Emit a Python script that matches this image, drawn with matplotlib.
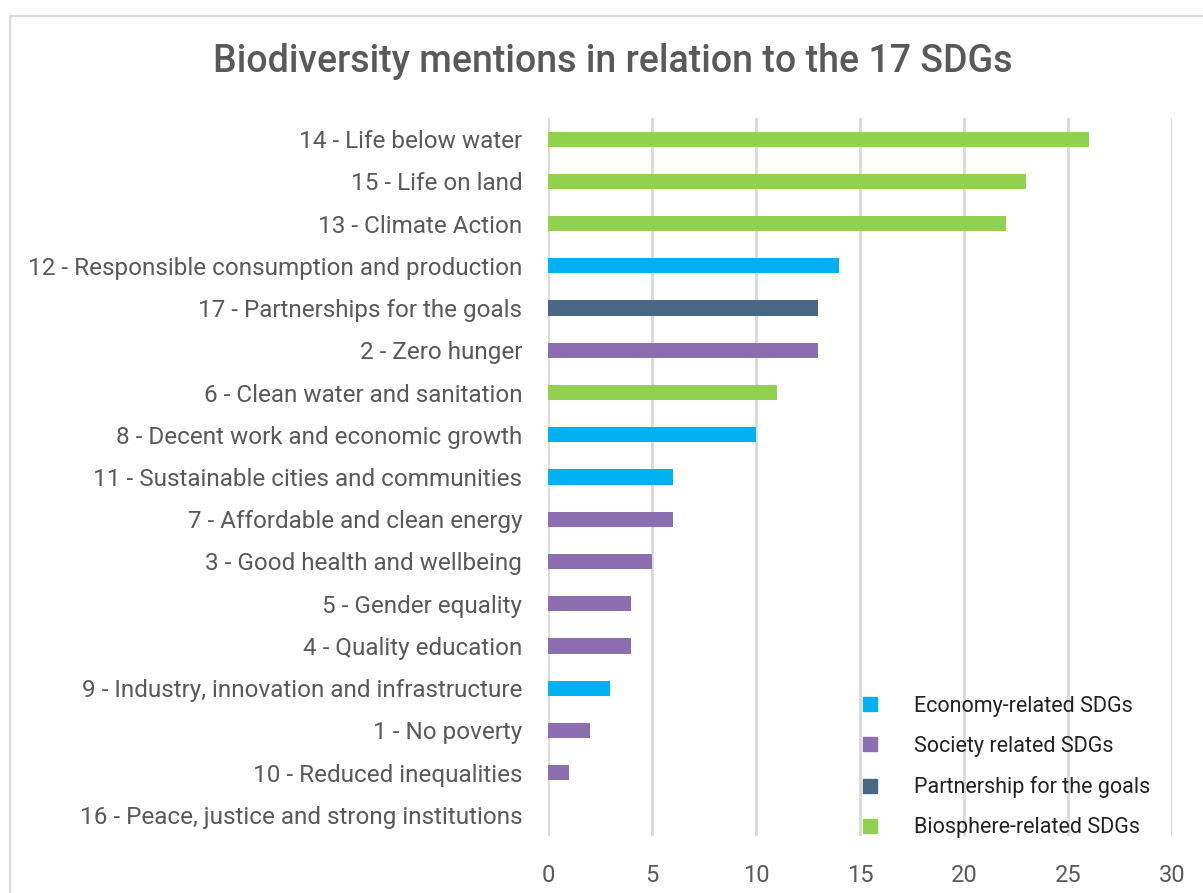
import matplotlib
matplotlib.use("Agg")
import matplotlib.pyplot as plt
from matplotlib.lines import Line2D
from matplotlib.patches import Rectangle

categories = [
    "14 - Life below water",
    "15 - Life on land",
    "13 - Climate Action",
    "12 - Responsible consumption and production",
    "17 - Partnerships for the goals",
    "2 - Zero hunger",
    "6 - Clean water and sanitation",
    "8 - Decent work and economic growth",
    "11 - Sustainable cities and communities",
    "7 - Affordable and clean energy",
    "3 - Good health and wellbeing",
    "5 - Gender equality",
    "4 - Quality education",
    "9 - Industry, innovation and infrastructure",
    "1 - No poverty",
    "10 - Reduced inequalities",
    "16 - Peace, justice and strong institutions",
]
values = [26, 23, 22, 14, 13, 13, 11, 10, 6, 6, 5, 4, 4, 3, 2, 1, 0]
groups = ["bio", "bio", "bio", "eco", "part", "soc", "bio", "eco", "eco",
          "soc", "soc", "soc", "soc", "eco", "soc", "soc", "soc"]
group_labels = {
    "eco": "Economy-related SDGs",
    "soc": "Society related SDGs",
    "part": "Partnership for the goals",
    "bio": "Biosphere-related SDGs",
}
group_colors = {
    "eco": "#00b0f0",
    "soc": "#8b6fb0",
    "part": "#4a6785",
    "bio": "#92d050",
}
xticks = [0, 5, 10, 15, 20, 25, 30]

plt.rcParams['font.family'] = ['Roboto', 'DejaVu Sans']

W, H = 1203, 893
fig = plt.figure(figsize=(W / 100, H / 100), dpi=100)
ax = fig.add_axes([548 / W, 1 - 836 / H, (1172 - 548) / W, (836 - 118) / H])

y = list(range(len(categories)))
ax.barh(y, values, height=0.36, color=[group_colors[g] for g in groups], zorder=3)
ax.set_ylim(len(categories) - 0.5, -0.5)
ax.set_xlim(0, 30)
ax.set_xticks(xticks)
ax.set_yticks(y)
ax.set_yticklabels(categories, fontsize=17.5, color="#595959")
ax.tick_params(axis='x', labelsize=17, labelcolor="#595959", length=0, pad=20)
ax.tick_params(axis='y', length=0, pad=18.5)
for s in ax.spines.values():
    s.set_visible(False)
ax.grid(axis='x', color="#d9d9d9", linewidth=2, zorder=0)
ax.set_axisbelow(True)

fig.text(613 / W, 1 - 62 / H, "Biodiversity mentions in relation to the 17 SDGs",
         ha="center", va="center", fontsize=27, fontweight="medium", color="#595959")

handles = [Line2D([], [], marker='s', linestyle='none', markersize=10,
                  markerfacecolor=group_colors[k], markeredgecolor=group_colors[k])
           for k in ["eco", "soc", "part", "bio"]]
labels = [group_labels[k] for k in ["eco", "soc", "part", "bio"]]
leg = ax.legend(handles, labels, loc="upper left",
                bbox_to_anchor=(838 / W, 1 - 685 / H), bbox_transform=fig.transFigure,
                frameon=False, fontsize=15.5, handletextpad=1.05, labelspacing=0.89,
                borderpad=0, labelcolor="#222222")

fig.patches.append(Rectangle((10 / W, -0.1), 1.2, (1 - 16 / H) + 0.1,
                             transform=fig.transFigure, fill=False,
                             edgecolor="#d9d9d9", linewidth=1.5))

fig.savefig("out.png", dpi=100)
